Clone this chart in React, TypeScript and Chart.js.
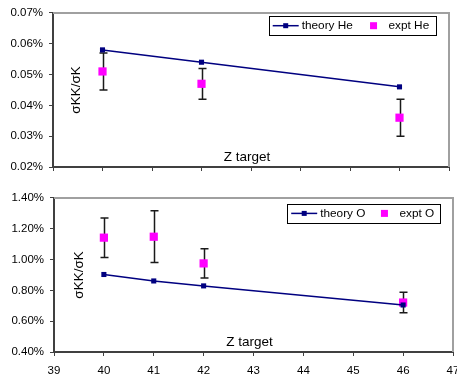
import React, { useEffect, useRef } from "react";
import { Chart, registerables } from "chart.js";
Chart.register(...registerables);

// ---- data (values in percent) ----
const zHe = [40, 42, 46];
const theoryHe = [0.058, 0.054, 0.046];
const exptHe = [0.051, 0.047, 0.036];
const exptHeErr = [0.006, 0.005, 0.006];

const zO = [40, 41, 42, 46];
const theoryO = [0.903, 0.861, 0.829, 0.705];
const exptO = [1.142, 1.148, 0.975, 0.721];
const exptOErr = [0.128, 0.168, 0.095, 0.066];

const xTicksMin = 39;
const xTicksMax = 47;
const yTopRange = [0.02, 0.07, 0.01];
const yBotRange = [0.4, 1.4, 0.2];

const labelsHe = ["theory He", "expt He"];
const labelsO = ["theory O", "expt O"];
const yTitle = "σKK/σK";
const xTitle = "Z target";

const FONT = "'Liberation Sans', Arial, sans-serif";
const NAVY = "#000080";
const MAGENTA = "#FF00FF";
const AXIS = "#404040";

const errorBarPlugin = {
  id: "errorBars",
  beforeDatasetsDraw(chart: any) {
    const ctx = chart.ctx;
    const y = chart.scales.y;
    chart.data.datasets.forEach((ds: any, i: number) => {
      if (!ds.errorBars) return;
      const meta = chart.getDatasetMeta(i);
      meta.data.forEach((pt: any, j: number) => {
        const v = ds.data[j].y;
        const e = ds.errorBars[j];
        const yt = y.getPixelForValue(v + e);
        const yb = y.getPixelForValue(v - e);
        const x = Math.round(pt.x) + 0.5;
        ctx.save();
        ctx.strokeStyle = "#1a1a1a";
        ctx.lineWidth = 1.5;
        ctx.beginPath();
        ctx.moveTo(x, yt);
        ctx.lineTo(x, yb);
        ctx.moveTo(x - 4, yt);
        ctx.lineTo(x + 4, yt);
        ctx.moveTo(x - 4, yb);
        ctx.lineTo(x + 4, yb);
        ctx.stroke();
        ctx.restore();
      });
    });
  },
};

const framePlugin = {
  id: "frameDeco",
  beforeDatasetsDraw(chart: any) {
    const { ctx, chartArea: a } = chart;
    ctx.save();
    ctx.strokeStyle = "#a0a0a0";
    ctx.lineWidth = 2;
    ctx.beginPath();
    ctx.moveTo(a.left, a.top);
    ctx.lineTo(a.right, a.top);
    ctx.lineTo(a.right, a.bottom);
    ctx.stroke();
    // titles inside plot area
    ctx.fillStyle = "#000";
    ctx.font = `13.5px ${FONT}`;
    ctx.textAlign = "center";
    ctx.textBaseline = "alphabetic";
    ctx.fillText(xTitle, (a.left + a.right) / 2 - 4, a.bottom - 6.5);
    ctx.save();
    const o = chart.options.plugins.frameDeco;
    ctx.translate(a.left + o.yTitleDx, (a.top + a.bottom) / 2);
    ctx.rotate(-Math.PI / 2);
    ctx.textBaseline = "middle";
    ctx.fillText(yTitle, 0, 0);
    ctx.restore();
    ctx.restore();
  },
};

const legendPlugin = {
  id: "boxLegend",
  afterDraw(chart: any) {
    const o = chart.options.plugins.boxLegend;
    const { ctx, chartArea: a } = chart;
    const ds = chart.data.datasets;
    ctx.save();
    ctx.font = `11.8px ${FONT}`;
    const w1 = ctx.measureText(ds[0].label).width;
    const w2 = ctx.measureText(ds[1].label).width;
    const text1 = 33;
    const sq = text1 + w1 + o.gap;
    const text2 = sq + 15;
    const width = text2 + w2 + 6.5;
    const h = 19;
    const L = a.right - o.right - width;
    const T = a.top + o.top;
    ctx.fillStyle = "#fff";
    ctx.fillRect(L, T, width, h);
    ctx.strokeStyle = "#000";
    ctx.lineWidth = 1;
    ctx.strokeRect(Math.round(L) + 0.5, Math.round(T) + 0.5, Math.round(width), h);
    const cy = T + h / 2;
    ctx.strokeStyle = NAVY;
    ctx.lineWidth = 1.5;
    ctx.beginPath();
    ctx.moveTo(L + 4, cy);
    ctx.lineTo(L + 30, cy);
    ctx.stroke();
    ctx.fillStyle = NAVY;
    ctx.fillRect(L + 17 - 2.5, cy - 2.5, 5, 5);
    ctx.fillStyle = MAGENTA;
    ctx.fillRect(L + sq - 3.5, cy - 3.5, 7, 7);
    ctx.fillStyle = "#000";
    ctx.textBaseline = "middle";
    ctx.textAlign = "left";
    ctx.fillText(ds[0].label, L + text1, cy + 0.5);
    ctx.fillText(ds[1].label, L + text2, cy + 0.5);
    ctx.restore();
  },
};

function makeConfig(opts: any): any {
  const { z, theory, expt, err, labels, range, showX, pad, axisW, axisH, legend, yTitleDx } = opts;
  return {
    type: "scatter",
    data: {
      datasets: [
        {
          label: labels[0],
          data: z.map((x: number, i: number) => ({ x, y: theory[i] })),
          showLine: true,
          borderColor: NAVY,
          borderWidth: 1.5,
          backgroundColor: NAVY,
          pointStyle: "rect",
          pointRadius: 3.6,
          pointBorderWidth: 0,
        },
        {
          label: labels[1],
          data: z.map((x: number, i: number) => ({ x, y: expt[i] })),
          showLine: false,
          backgroundColor: MAGENTA,
          borderColor: MAGENTA,
          pointStyle: "rect",
          pointRadius: 5.8,
          pointBorderWidth: 0,
          errorBars: err,
        },
      ],
    },
    options: {
      responsive: false,
      animation: false,
      events: [],
      layout: { padding: pad },
      plugins: {
        legend: { display: false },
        tooltip: { enabled: false },
        frameDeco: { yTitleDx },
        boxLegend: legend,
      },
      scales: {
        x: {
          type: "linear",
          min: xTicksMin,
          max: xTicksMax,
          afterFit: (s: any) => {
            s.height = axisH;
          },
          ticks: {
            display: showX,
            stepSize: 1,
            color: "#000",
            padding: 8,
            maxRotation: 0,
            font: { family: FONT, size: 11.5 },
          },
          grid: {
            display: true,
            drawOnChartArea: false,
            drawTicks: true,
            tickLength: 4,
            color: AXIS,
            lineWidth: 1,
          },
          border: { display: true, color: AXIS, width: 2 },
        },
        y: {
          min: range[0],
          max: range[1],
          afterFit: (s: any) => {
            s.width = axisW;
          },
          ticks: {
            stepSize: range[2],
            color: "#000",
            padding: 6,
            font: { family: FONT, size: 11.5 },
            callback: (v: any) => Number(v).toFixed(2) + "%",
          },
          grid: {
            display: true,
            drawOnChartArea: false,
            drawTicks: true,
            tickLength: 4,
            color: AXIS,
            lineWidth: 1,
          },
          border: { display: true, color: AXIS, width: 2 },
        },
      },
    },
    plugins: [framePlugin, errorBarPlugin, legendPlugin],
  };
}

export default function App() {
  const topRef = useRef<HTMLCanvasElement>(null);
  const botRef = useRef<HTMLCanvasElement>(null);
  useEffect(() => {
    const c1 = new Chart(
      topRef.current as HTMLCanvasElement,
      makeConfig({
        z: zHe,
        theory: theoryHe,
        expt: exptHe,
        err: exptHeErr,
        labels: labelsHe,
        range: yTopRange,
        showX: false,
        pad: { left: 0, right: 21, top: 7, bottom: 0 },
        axisW: 53,
        axisH: 18,
        legend: { right: 13.3, top: 3.3, gap: 20.7 },
        yTitleDx: 23,
      })
    );
    const c2 = new Chart(
      botRef.current as HTMLCanvasElement,
      makeConfig({
        z: zO,
        theory: theoryO,
        expt: exptO,
        err: exptOErr,
        labels: labelsO,
        range: yBotRange,
        showX: true,
        pad: { left: 0, right: 17, top: 9, bottom: 0 },
        axisW: 54,
        axisH: 28,
        legend: { right: 12.3, top: 6, gap: 19 },
        yTitleDx: 25,
      })
    );
    return () => {
      c1.destroy();
      c2.destroy();
    };
  }, []);
  return (
    <div
      style={{
        position: "fixed",
        left: 0,
        top: 0,
        width: 457,
        height: 380,
        overflow: "hidden",
        background: "#fff",
      }}
    >
      <div style={{ position: "absolute", left: 0, top: 0, width: 470, height: 185 }}>
        <canvas ref={topRef} width={470} height={185} style={{ display: "block" }} />
      </div>
      <div style={{ position: "absolute", left: 0, top: 185, width: 470, height: 195 }}>
        <canvas ref={botRef} width={470} height={195} style={{ display: "block" }} />
      </div>
    </div>
  );
}
